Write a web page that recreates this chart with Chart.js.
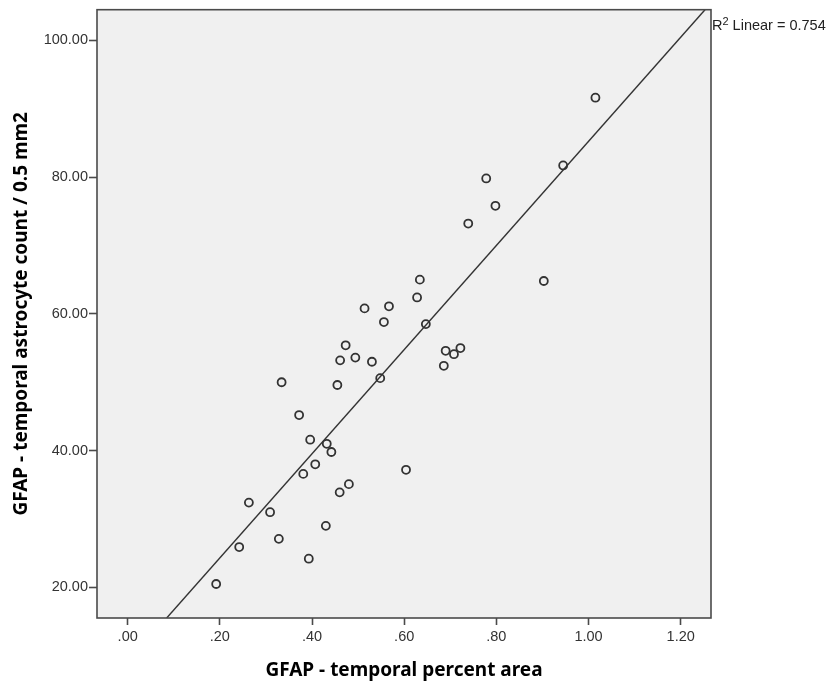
<!DOCTYPE html>
<html>
<head>
<meta charset="utf-8">
<script src="https://cdn.jsdelivr.net/npm/chart.js@4"></script>
<style>
  body { margin: 0; background: #fff; }
</style>
</head>
<body>
<canvas id="myChart" width="826" height="684"></canvas>
<script>
// datos
var xVals = [0.192, 0.242, 0.263, 0.309, 0.328, 0.334, 0.372, 0.381, 0.393, 0.396,
             0.407, 0.432, 0.430, 0.442, 0.455, 0.460, 0.461, 0.473, 0.480, 0.494,
             0.514, 0.530, 0.548, 0.556, 0.567, 0.604, 0.628, 0.634, 0.647, 0.686,
             0.690, 0.708, 0.722, 0.739, 0.778, 0.798, 0.903, 0.945, 1.015];
var yVals = [20.5, 25.9, 32.4, 31.0, 27.1, 50.0, 45.2, 36.6, 24.2, 41.6,
             38.0, 41.0, 29.0, 39.8, 49.6, 33.9, 53.2, 55.4, 35.1, 53.6,
             60.8, 53.0, 50.6, 58.8, 61.1, 37.2, 62.4, 65.0, 58.5, 52.4,
             54.6, 54.1, 55.0, 73.2, 79.8, 75.8, 64.8, 81.7, 91.6];

// linea de ajuste (extremos)
var fitX = [0.0846, 1.2528];
var fitY = [15.53, 104.47];
var r2Label = 'Linear = 0.754';

var xTickVals = [0, 0.2, 0.4, 0.6, 0.8, 1.0, 1.2];
var xTickLabels = ['.00', '.20', '.40', '.60', '.80', '1.00', '1.20'];
var yTickVals = [20, 40, 60, 80, 100];
var yTickLabels = ['20.00', '40.00', '60.00', '80.00', '100.00'];

var xTitle = 'GFAP - temporal percent area';
var yTitle = 'GFAP - temporal astrocyte count / 0.5 mm2';

var puntos = xVals.map(function (v, i) { return { x: v, y: yVals[i] }; });
var linea = fitX.map(function (v, i) { return { x: v, y: fitY[i] }; });

var fondo = {
  id: 'fondo',
  beforeDatasetsDraw: function (chart) {
    var a = chart.chartArea, c = chart.ctx;
    c.save();
    c.fillStyle = '#f0f0f0';
    c.fillRect(a.left, a.top, a.right - a.left, a.bottom - a.top);
    c.restore();
  },
  afterDraw: function (chart) {
    var a = chart.chartArea, c = chart.ctx;
    c.save();
    c.strokeStyle = '#4a4a4a';
    c.lineWidth = 1.6;
    c.strokeRect(a.left, a.top, a.right - a.left, a.bottom - a.top);
    // etiqueta R2
    c.fillStyle = '#222';
    c.textBaseline = 'alphabetic';
    c.font = '14.5px "Liberation Sans", Arial, sans-serif';
    var x0 = a.right + 1, y0 = a.top + 20;
    c.fillText('R', x0, y0);
    var w = c.measureText('R').width;
    c.font = '11px "Liberation Sans", Arial, sans-serif';
    c.fillText('2', x0 + w, y0 - 5);
    var w2 = c.measureText('2').width;
    c.font = '14.5px "Liberation Sans", Arial, sans-serif';
    c.fillText(' ' + r2Label, x0 + w + w2, y0);
    c.restore();
  }
};

var ctx = document.getElementById('myChart').getContext('2d');
var myChart = new Chart(ctx, {
  type: 'scatter',
  data: {
    datasets: [
      {
        label: 'datos',
        data: puntos,
        pointRadius: 4,
        pointHoverRadius: 4,
        pointBorderWidth: 1.8,
        pointBorderColor: '#333',
        pointBackgroundColor: 'rgba(0,0,0,0)'
      },
      {
        label: 'ajuste',
        type: 'line',
        data: linea,
        borderColor: '#333',
        borderWidth: 1.4,
        pointRadius: 0,
        fill: false
      }
    ]
  },
  options: {
    responsive: false,
    animation: false,
    layout: { padding: { left: 0, top: 9, right: 115, bottom: 0 } },
    plugins: { legend: { display: false }, tooltip: { enabled: false } },
    scales: {
      x: {
        type: 'linear',
        min: -0.0666,
        max: 1.2658,
        afterFit: function (s) { s.height = 66; },
        afterBuildTicks: function (s) { s.ticks = xTickVals.map(function (v) { return { value: v }; }); },
        ticks: {
          padding: 3,
          color: '#333',
          font: { family: '"Liberation Sans", Arial, sans-serif', size: 14.5 },
          callback: function (v) { return xTickLabels[xTickVals.indexOf(v)]; }
        },
        grid: { drawOnChartArea: false, tickLength: 7, color: '#4a4a4a', tickWidth: 1.6 },
        border: { display: false },
        title: {
          display: true,
          text: xTitle,
          color: '#000',
          padding: { top: 0, bottom: 2 },
          font: { family: '"Noto Sans", sans-serif', size: 19, weight: 'bold' }
        }
      },
      y: {
        type: 'linear',
        min: 15.53,
        max: 104.47,
        afterFit: function (s) { s.width = 97; },
        afterBuildTicks: function (s) { s.ticks = yTickVals.map(function (v) { return { value: v }; }); },
        ticks: {
          padding: 1,
          color: '#333',
          font: { family: '"Liberation Sans", Arial, sans-serif', size: 14.5 },
          callback: function (v) { return yTickLabels[yTickVals.indexOf(v)]; }
        },
        grid: { drawOnChartArea: false, tickLength: 8, color: '#4a4a4a', tickWidth: 1.6 },
        border: { display: false },
        title: {
          display: true,
          text: yTitle,
          color: '#000',
          padding: { top: 10, bottom: 0 },
          font: { family: '"Noto Sans", sans-serif', size: 19, weight: 'bold' }
        }
      }
    }
  },
  plugins: [fondo]
});
</script>
</body>
</html>
